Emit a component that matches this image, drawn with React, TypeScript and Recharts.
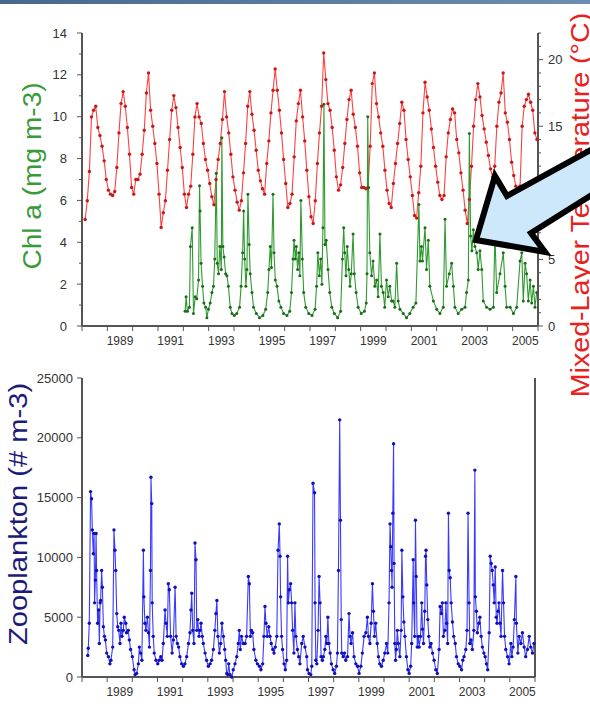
import React from 'react';
import { ComposedChart, Line, XAxis, YAxis } from 'recharts';

const FONT = '"Liberation Sans", Arial, Helvetica, sans-serif';

// yearly ticks; odd years labelled in the middle of their year
const yearTicks = [1988, 1989, 1990, 1991, 1992, 1993, 1994, 1995, 1996, 1997, 1998, 1999, 2000, 2001, 2002, 2003, 2004, 2005, 2006];
const labelledYears = [1989, 1991, 1993, 1995, 1997, 1999, 2001, 2003, 2005];

const chlTicks = [0, 1, 2, 3, 4, 5, 6, 7, 8, 9, 10, 11, 12, 13, 14];
const chlLabels = [0, 2, 4, 6, 8, 10, 12, 14];
const tempTicks = [0, 1, 2, 3, 4, 5, 6, 7, 8, 9, 10, 11, 12, 13, 14, 15, 16, 17, 18, 19, 20, 21, 22];
const tempLabels = [0, 5, 10, 15, 20];
const zooTicks = [0, 5000, 10000, 15000, 20000, 25000];

// monthly mixed-layer temperature (°C), Feb 1988 .. Dec 2005
const tempFirstMonth = 1988 + 1.5 / 12;
const mixedLayerTemp = [
  8.0, 9.4, 11.6, 15.7, 16.2, 16.5, 14.9, 14.3, 13.5, 12.4, 11.0,
  10.2, 9.9, 9.8, 10.1, 11.9, 14.5, 16.7, 17.6, 16.5, 14.9, 12.9, 10.4,
  9.9, 11.0, 11.0, 11.4, 12.9, 14.7, 17.5, 19.0, 16.2, 15.0, 13.7, 12.2,
  9.9, 7.4, 8.5, 9.4, 11.7, 14.0, 16.2, 17.3, 16.4, 14.9, 13.4, 11.9,
  9.9, 8.9, 9.9, 10.5, 12.9, 15.7, 16.7, 15.7, 15.2, 13.7, 12.5, 11.7,
  10.7, 9.7, 9.1, 11.0, 12.5, 13.7, 15.5, 17.6, 15.7, 14.5, 12.9, 11.2,
  10.2, 9.3, 8.7, 9.4, 11.5, 13.7, 16.5, 17.6, 15.9, 14.7, 13.2, 11.7,
  10.9, 10.3, 9.9, 12.2, 13.9, 16.0, 17.7, 19.3, 17.7, 16.2, 14.5, 12.5,
  10.7, 8.9, 9.2, 9.9, 12.7, 15.4, 16.7, 17.7, 15.7, 13.9, 11.7, 9.7,
  8.2, 7.7, 9.4, 12.2, 14.5, 16.5, 20.5, 18.5, 16.7, 16.2, 14.9, 13.2,
  11.2, 10.2, 10.6, 11.9, 13.7, 15.5, 17.0, 17.7, 15.9, 14.9, 13.5, 11.5,
  10.4, 10.4, 10.3, 10.4, 13.5, 18.2, 19.0, 16.7, 15.7, 14.5, 13.5, 11.7,
  10.2, 9.2, 8.9, 10.7, 12.2, 13.7, 15.2, 16.8, 16.2, 14.0, 12.5, 11.2,
  9.8, 8.3, 8.1, 10.0, 12.0, 16.0, 18.3, 17.2, 16.2, 14.8, 13.4, 12.0,
  10.8, 9.8, 9.5, 9.8, 12.7, 14.5, 15.5, 16.3, 16.0, 14.0, 13.0, 11.5,
  10.2, 8.7, 7.7, 9.5, 12.0, 15.0, 17.0, 18.2, 17.2, 15.8, 14.8, 13.8,
  12.8, 11.8, 11.2, 12.0, 15.0, 16.8, 17.5, 19.0, 16.0, 15.3, 14.0, 12.3,
  11.3, 10.5, 10.0, 10.5, 15.0, 16.5, 17.0, 17.4, 16.8, 16.2, 14.5, 14.0,
];

// chlorophyll a samples [decimal year, mg m-3]
const chlSamples: [number, number][] = [
  [1992.07, 0.7], [1992.11, 1.4], [1992.16, 0.7], [1992.24, 0.9], [1992.28, 3.8], [1992.35, 4.7], [1992.40, 0.6], [1992.47, 1.4],
  [1992.53, 1.3], [1992.60, 2.2], [1992.64, 6.7], [1992.66, 5.5], [1992.70, 3.0], [1992.76, 1.9], [1992.81, 1.1], [1992.88, 0.9],
  [1992.93, 0.4], [1992.99, 0.8], [1993.06, 1.1], [1993.13, 1.6], [1993.19, 1.9], [1993.24, 3.2], [1993.30, 7.3], [1993.34, 3.0],
  [1993.39, 2.5], [1993.44, 3.8], [1993.50, 2.7], [1993.52, 9.0], [1993.56, 3.8], [1993.61, 3.3], [1993.67, 2.5], [1993.72, 2.4],
  [1993.78, 1.9], [1993.85, 0.9], [1993.92, 0.6], [1994.01, 0.5], [1994.11, 0.6], [1994.22, 0.9], [1994.28, 1.9], [1994.34, 3.5],
  [1994.38, 5.5], [1994.42, 3.2], [1994.47, 1.9], [1994.51, 2.7], [1994.55, 6.3], [1994.60, 3.9], [1994.64, 2.5], [1994.71, 1.6],
  [1994.77, 0.9], [1994.88, 0.6], [1995.01, 0.4], [1995.14, 0.5], [1995.25, 0.8], [1995.33, 1.6], [1995.38, 2.7], [1995.43, 3.8],
  [1995.48, 2.8], [1995.54, 6.3], [1995.58, 3.5], [1995.63, 2.2], [1995.70, 1.9], [1995.77, 1.2], [1995.85, 0.9], [1995.96, 0.6],
  [1996.09, 0.5], [1996.20, 0.7], [1996.27, 1.6], [1996.33, 3.2], [1996.37, 4.1], [1996.42, 3.2], [1996.46, 3.8], [1996.51, 2.7],
  [1996.56, 3.5], [1996.60, 2.4], [1996.64, 6.0], [1996.70, 3.2], [1996.75, 1.6], [1996.83, 0.9], [1996.95, 0.6], [1997.08, 0.5],
  [1997.20, 0.8], [1997.26, 1.9], [1997.31, 3.5], [1997.37, 2.4], [1997.42, 3.2], [1997.47, 2.0], [1997.51, 4.7], [1997.55, 10.6],
  [1997.59, 3.9], [1997.64, 4.1], [1997.71, 2.7], [1997.78, 1.6], [1997.86, 0.9], [1997.96, 0.6], [1998.09, 0.4], [1998.21, 0.7],
  [1998.28, 3.2], [1998.33, 4.7], [1998.37, 3.5], [1998.42, 2.4], [1998.47, 3.8], [1998.53, 2.7], [1998.58, 1.9], [1998.63, 2.5],
  [1998.70, 4.4], [1998.75, 2.5], [1998.82, 1.6], [1998.90, 0.9], [1999.02, 0.6], [1999.15, 0.7], [1999.22, 1.1], [1999.25, 2.5],
  [1999.28, 10.0], [1999.31, 6.6], [1999.36, 3.5], [1999.43, 2.4], [1999.49, 3.1], [1999.56, 1.9], [1999.63, 2.2], [1999.69, 1.4],
  [1999.76, 4.4], [1999.82, 1.9], [1999.89, 1.6], [1999.95, 0.9], [2000.02, 2.2], [2000.09, 1.4], [2000.15, 1.9], [2000.22, 1.2],
  [2000.28, 1.2], [2000.35, 0.9], [2000.42, 3.0], [2000.48, 1.2], [2000.55, 0.8], [2000.68, 0.6], [2000.81, 0.4], [2000.94, 0.6],
  [2001.07, 0.9], [2001.18, 1.1], [2001.30, 5.8], [2001.34, 3.1], [2001.40, 3.8], [2001.44, 3.1], [2001.54, 4.7], [2001.60, 2.7],
  [2001.67, 4.1], [2001.73, 1.9], [2001.87, 1.2], [2002.00, 0.8], [2002.13, 0.6], [2002.26, 0.9], [2002.33, 5.1], [2002.39, 1.9],
  [2002.50, 2.5], [2002.59, 3.0], [2002.66, 1.9], [2002.72, 0.9], [2002.85, 0.6], [2002.99, 0.8], [2003.12, 0.9], [2003.18, 1.6],
  [2003.25, 2.2], [2003.29, 9.2], [2003.34, 4.3], [2003.39, 3.6], [2003.45, 4.6], [2003.51, 3.8], [2003.58, 3.5], [2003.64, 2.7],
  [2003.71, 3.6], [2003.78, 2.7], [2003.84, 1.2], [2003.97, 0.9], [2004.11, 0.8], [2004.24, 0.9], [2004.30, 4.4], [2004.37, 1.6],
  [2004.50, 2.5], [2004.63, 3.5], [2004.70, 1.9], [2004.76, 0.9], [2004.90, 0.9], [2005.03, 0.6], [2005.16, 0.9], [2005.29, 3.1],
  [2005.36, 3.5], [2005.42, 1.2], [2005.49, 3.0], [2005.55, 2.5], [2005.62, 1.2], [2005.69, 2.2], [2005.75, 1.1], [2005.82, 1.9],
  [2005.88, 0.9], [2005.95, 1.6],
];

// zooplankton samples [decimal year, # m-3]
const zooSamples: [number, number][] = [
  [1988.23, 1800], [1988.25, 2400], [1988.29, 4500], [1988.34, 15500], [1988.38, 14900], [1988.41, 12300], [1988.45, 10300], [1988.48, 12000],
  [1988.50, 6200], [1988.53, 8100], [1988.56, 12000], [1988.58, 8900], [1988.62, 4500], [1988.66, 5600], [1988.69, 2800], [1988.72, 6200],
  [1988.74, 6400], [1988.78, 8900], [1988.81, 7500], [1988.85, 4200], [1988.89, 3400], [1988.93, 3100], [1988.98, 2000],
  [1989.05, 1700], [1989.11, 1100], [1989.15, 1400], [1989.22, 2500], [1989.27, 12300], [1989.31, 10600], [1989.34, 8900], [1989.38, 5300],
  [1989.42, 4200], [1989.46, 3900], [1989.51, 2800], [1989.55, 4500], [1989.59, 3400], [1989.64, 3900], [1989.68, 5000], [1989.74, 4500],
  [1989.77, 3700], [1989.84, 3900], [1989.88, 3100], [1989.93, 2300],
  [1990.00, 1700], [1990.07, 600], [1990.11, 200], [1990.17, 300], [1990.24, 1100], [1990.28, 2500], [1990.33, 2000], [1990.38, 1400],
  [1990.44, 10600], [1990.46, 6700], [1990.50, 4500], [1990.54, 3900], [1990.60, 5000], [1990.64, 3700], [1990.68, 2500], [1990.72, 8900],
  [1990.74, 16700], [1990.77, 14500], [1990.79, 6200], [1990.83, 3400], [1990.87, 2000], [1990.94, 1400],
  [1991.01, 1100], [1991.07, 1400], [1991.13, 1700], [1991.18, 1400], [1991.23, 2800], [1991.30, 5600], [1991.34, 4500], [1991.39, 3400],
  [1991.43, 7800], [1991.47, 7300], [1991.52, 3400], [1991.58, 2000], [1991.63, 3100], [1991.70, 7500], [1991.74, 3400], [1991.79, 2800],
  [1991.84, 2500], [1991.89, 1700], [1991.96, 1100],
  [1992.03, 900], [1992.09, 1100], [1992.16, 1700], [1992.23, 2800], [1992.29, 3700], [1992.33, 5600], [1992.36, 7000], [1992.40, 3900],
  [1992.45, 2800], [1992.49, 11200], [1992.53, 9800], [1992.56, 3900], [1992.60, 4800], [1992.65, 3400], [1992.69, 3900], [1992.73, 4500],
  [1992.78, 3400], [1992.82, 2800], [1992.89, 2000], [1992.95, 1400],
  [1993.02, 900], [1993.09, 1100], [1993.15, 1400], [1993.22, 2300], [1993.28, 3900], [1993.32, 5300], [1993.36, 6400], [1993.40, 3400],
  [1993.46, 2000], [1993.51, 2800], [1993.56, 4500], [1993.62, 3400], [1993.67, 2300], [1993.71, 1400], [1993.75, 300], [1993.79, 200],
  [1993.83, 1100], [1993.88, 200], [1993.95, 0],
  [1994.01, 600], [1994.08, 1100], [1994.15, 1700], [1994.21, 2800], [1994.25, 3900], [1994.29, 2300], [1994.34, 3400], [1994.41, 2800],
  [1994.48, 2800], [1994.54, 3400], [1994.61, 8400], [1994.65, 7800], [1994.69, 3400], [1994.73, 3900], [1994.78, 3700], [1994.83, 2300],
  [1994.91, 1400], [1994.97, 1100],
  [1995.05, 900], [1995.11, 600], [1995.18, 1100], [1995.23, 3400], [1995.27, 5900], [1995.31, 4500], [1995.36, 3400], [1995.42, 4200],
  [1995.47, 3400], [1995.52, 2800], [1995.58, 2300], [1995.63, 2000], [1995.68, 2500], [1995.74, 3400], [1995.79, 10600], [1995.84, 12800],
  [1995.87, 10100], [1995.89, 6700], [1995.93, 3400], [1995.97, 2300],
  [1996.03, 1100], [1996.08, 600], [1996.13, 1400], [1996.17, 10100], [1996.20, 6200], [1996.24, 7300], [1996.29, 7800], [1996.33, 6200],
  [1996.37, 3900], [1996.42, 2000], [1996.46, 6200], [1996.50, 3400], [1996.56, 2300], [1996.61, 1700], [1996.66, 1100], [1996.73, 2800],
  [1996.79, 3400], [1996.86, 2500], [1996.93, 1700], [1996.96, 600],
  [1997.02, 300], [1997.09, 200], [1997.13, 900], [1997.18, 16200], [1997.24, 15400], [1997.26, 6200], [1997.29, 1400], [1997.33, 1100],
  [1997.38, 3900], [1997.42, 8400], [1997.46, 6200], [1997.50, 1700], [1997.55, 1400], [1997.59, 1700], [1997.65, 2300], [1997.69, 3400],
  [1997.73, 2800], [1997.77, 5000], [1997.81, 2800], [1997.86, 2000], [1997.91, 1100], [1997.98, 600],
  [1998.04, 300], [1998.11, 900], [1998.15, 2000], [1998.19, 8900], [1998.24, 21500], [1998.27, 13100], [1998.30, 4800], [1998.32, 2000],
  [1998.38, 1700], [1998.43, 2000], [1998.48, 1400], [1998.55, 1700], [1998.61, 5300], [1998.65, 3400], [1998.69, 2800], [1998.75, 3700],
  [1998.81, 1700], [1998.88, 1100], [1998.95, 900],
  [1999.01, 300], [1999.08, 900], [1999.14, 2000], [1999.21, 3400], [1999.28, 3700], [1999.34, 5000], [1999.38, 3400], [1999.44, 2800],
  [1999.49, 4500], [1999.54, 7800], [1999.58, 5500], [1999.62, 3400], [1999.67, 4500], [1999.73, 2800], [1999.78, 1700], [1999.83, 1100],
  [1999.90, 900], [1999.97, 1400],
  [2000.03, 2000], [2000.10, 2800], [2000.15, 2000], [2000.20, 6200], [2000.24, 12800], [2000.27, 10900], [2000.30, 8900], [2000.32, 7500],
  [2000.35, 13700], [2000.38, 19500], [2000.40, 9500], [2000.43, 2800], [2000.46, 1400], [2000.49, 2300], [2000.53, 3900], [2000.57, 2800],
  [2000.63, 1700], [2000.68, 3900], [2000.71, 10600], [2000.75, 6700], [2000.79, 4600], [2000.83, 3400], [2000.89, 1700], [2000.95, 600],
  [2001.00, 300], [2001.06, 900], [2001.10, 2800], [2001.16, 9800], [2001.18, 6200], [2001.22, 3400], [2001.25, 13100], [2001.28, 8400],
  [2001.32, 2500], [2001.36, 3400], [2001.40, 2500], [2001.45, 3400], [2001.50, 6200], [2001.53, 4000], [2001.57, 2800], [2001.62, 5500],
  [2001.65, 10100], [2001.67, 10600], [2001.70, 7700], [2001.74, 4800], [2001.78, 3400], [2001.82, 2500], [2001.87, 2800], [2001.93, 2000],
  [2001.99, 1400],
  [2002.06, 600], [2002.12, 300], [2002.19, 2300], [2002.23, 5900], [2002.28, 5300], [2002.32, 6200], [2002.36, 3400], [2002.42, 3900],
  [2002.46, 6200], [2002.49, 4500], [2002.53, 2800], [2002.56, 13700], [2002.59, 8900], [2002.63, 8300], [2002.67, 6200], [2002.72, 4600],
  [2002.77, 3400], [2002.83, 2800], [2002.88, 1700], [2002.95, 1100],
  [2003.01, 900], [2003.08, 600], [2003.13, 1400], [2003.18, 1700], [2003.25, 2300], [2003.30, 3900], [2003.34, 13700], [2003.38, 6200],
  [2003.41, 2800], [2003.46, 3100], [2003.51, 2300], [2003.57, 3900], [2003.61, 17300], [2003.63, 6700], [2003.67, 5500], [2003.71, 3700],
  [2003.77, 4500], [2003.81, 5000], [2003.86, 3400], [2003.91, 2500], [2003.97, 2000],
  [2004.02, 1700], [2004.07, 1100], [2004.12, 600], [2004.18, 3700], [2004.22, 10100], [2004.26, 9500], [2004.30, 8900], [2004.34, 7700],
  [2004.38, 6200], [2004.42, 9200], [2004.46, 5000], [2004.49, 4500], [2004.53, 5500], [2004.57, 6200], [2004.61, 4500], [2004.65, 3400],
  [2004.71, 8900], [2004.75, 6200], [2004.79, 3400], [2004.84, 2300], [2004.91, 1700], [2004.97, 1100],
  [2005.04, 2800], [2005.08, 1700], [2005.13, 2500], [2005.18, 4800], [2005.24, 8400], [2005.26, 4500], [2005.32, 2000], [2005.37, 3400],
  [2005.44, 2800], [2005.50, 3700], [2005.57, 2500], [2005.63, 1700], [2005.70, 2300], [2005.77, 3400], [2005.83, 2500], [2005.90, 2000],
  [2005.96, 2800],
];

const tempData = mixedLayerTemp.map((v, i) => ({ t: tempFirstMonth + i / 12, v }));
const chlData = chlSamples.map(([t, v]) => ({ t, v }));
const zooData = zooSamples.map(([t, v]) => ({ t, v }));

const AXIS = '#555';
const axisLine = { stroke: AXIS, strokeWidth: 2 };

// label sits in the middle of the year that starts at the tick
const makeYearTick = (halfYear: number) => (props: any) => {
  const { x, y, payload } = props;
  if (!labelledYears.includes(payload.value)) return <g />;
  return (
    <text x={x + halfYear} y={y} dy="0.71em" textAnchor="middle" fontSize={12} fontFamily={FONT} fill="#333">
      {payload.value}
    </text>
  );
};

const makeSideTick = (labels: number[], axisX: number, side: 'left' | 'right', gap: number) => (props: any) => {
  const { y, payload } = props;
  const major = labels.includes(payload.value);
  const dir = side === 'left' ? -1 : 1;
  const len = major ? 5 : 3;
  return (
    <g>
      <line x1={axisX} x2={axisX + dir * len} y1={y} y2={y} stroke={AXIS} strokeWidth={1} />
      {major && (
        <text
          x={axisX + dir * gap}
          y={y}
          dy="0.35em"
          textAnchor={side === 'left' ? 'end' : 'start'}
          fontSize={13}
          fontFamily={FONT}
          fill="#333"
        >
          {payload.value}
        </text>
      )}
    </g>
  );
};

const titleStyle = (cx: number, cy: number, color: string, stretch: number): React.CSSProperties => ({
  position: 'absolute',
  left: cx,
  top: cy,
  transform: `translate(-50%, -50%) rotate(-90deg) scaleX(${stretch})`,
  whiteSpace: 'nowrap',
  fontFamily: FONT,
  fontSize: 26,
  lineHeight: 'normal',
  color,
});

export default function App() {
  return (
    <div style={{ position: 'absolute', left: 0, top: 0, width: 590, height: 708, background: '#fff', overflow: 'hidden' }}>
      <div style={{ position: 'absolute', left: 0, top: 0 }}>
        <ComposedChart width={590} height={356} margin={{ top: 33, right: 0, bottom: 0, left: 0 }}>
          <XAxis
            xAxisId="yr"
            type="number"
            dataKey="t"
            domain={[1988, 2006]}
            ticks={yearTicks}
            interval={0}
            height={30}
            tickSize={5}
            tickMargin={5}
            tickLine={{ stroke: AXIS }}
            axisLine={axisLine}
            tick={makeYearTick(456 / 18 / 2)}
          />
          <XAxis xAxisId="frame" orientation="top" type="number" domain={[1988, 2006]} height={0} tick={false} tickLine={false} axisLine={axisLine} />
          <YAxis
            yAxisId="chl"
            type="number"
            domain={[0, 14]}
            ticks={chlTicks}
            interval={0}
            width={82}
            tickLine={false}
            axisLine={axisLine}
            tick={makeSideTick(chlLabels, 82, 'left', 15)}
          />
          <YAxis
            yAxisId="temp"
            orientation="right"
            type="number"
            domain={[0, 22]}
            ticks={tempTicks}
            interval={0}
            width={52}
            tickLine={false}
            axisLine={axisLine}
            tick={makeSideTick(tempLabels, 538, 'right', 10)}
          />
          <Line
            xAxisId="yr"
            yAxisId="temp"
            data={tempData}
            dataKey="v"
            type="linear"
            stroke="#ff4040"
            strokeWidth={1.1}
            dot={{ r: 1.7, fill: '#c81818', stroke: 'none', strokeWidth: 0 }}
            activeDot={false}
            isAnimationActive={false}
          />
          <Line
            xAxisId="yr"
            yAxisId="chl"
            data={chlData}
            dataKey="v"
            type="linear"
            stroke="#2f9a2f"
            strokeWidth={1.1}
            dot={{ r: 1.5, fill: '#1c6a1c', stroke: 'none', strokeWidth: 0 }}
            activeDot={false}
            isAnimationActive={false}
          />
        </ComposedChart>
      </div>

      <div style={{ position: 'absolute', left: 0, top: 356 }}>
        <ComposedChart width={590} height={352} margin={{ top: 22, right: 0, bottom: 0, left: 0 }}>
          <XAxis
            xAxisId="yr"
            type="number"
            dataKey="t"
            domain={[1988, 2006]}
            ticks={yearTicks}
            interval={0}
            height={31}
            tickSize={5}
            tickMargin={5}
            tickLine={{ stroke: AXIS }}
            axisLine={axisLine}
            tick={makeYearTick(453 / 18 / 2)}
          />
          <XAxis xAxisId="frame" orientation="top" type="number" domain={[1988, 2006]} height={0} tick={false} tickLine={false} axisLine={axisLine} />
          <YAxis
            yAxisId="zoo"
            type="number"
            domain={[0, 25000]}
            ticks={zooTicks}
            interval={0}
            width={82}
            tickLine={false}
            axisLine={axisLine}
            tick={makeSideTick(zooTicks, 82, 'left', 9)}
          />
          <YAxis yAxisId="edge" orientation="right" type="number" domain={[0, 1]} width={55} tick={false} tickLine={false} axisLine={axisLine} />
          <Line
            xAxisId="yr"
            yAxisId="zoo"
            data={zooData}
            dataKey="v"
            type="linear"
            stroke="#3a3aff"
            strokeWidth={1.1}
            dot={{ r: 1.7, fill: '#1010b8', stroke: 'none', strokeWidth: 0 }}
            activeDot={false}
            isAnimationActive={false}
          />
        </ComposedChart>
      </div>

      <div style={titleStyle(32, 176, '#3a9a3a', 1.08)}>Chl a (mg m-3)</div>
      <div style={titleStyle(18, 514, '#1c1c78', 1.12)}>Zooplankton (# m-3)</div>
      <div style={titleStyle(580, 205, '#e82020', 1.1)}>Mixed-Layer Temperature (°C)</div>

      {/* annotation arrow from the slide */}
      <svg width={590} height={708} style={{ position: 'absolute', left: 0, top: 0, pointerEvents: 'none' }}>
        <polygon
          points="476,240 495,176 507,196 598,146 598,191 531,233 545,252"
          fill="#cde8fb"
          stroke="#000"
          strokeWidth={6}
          strokeLinejoin="miter"
        />
      </svg>

      <div style={{ position: 'absolute', left: 0, top: 0, width: 590, height: 4, background: 'linear-gradient(to right, #48678f, #6f8db2)' }} />
    </div>
  );
}
